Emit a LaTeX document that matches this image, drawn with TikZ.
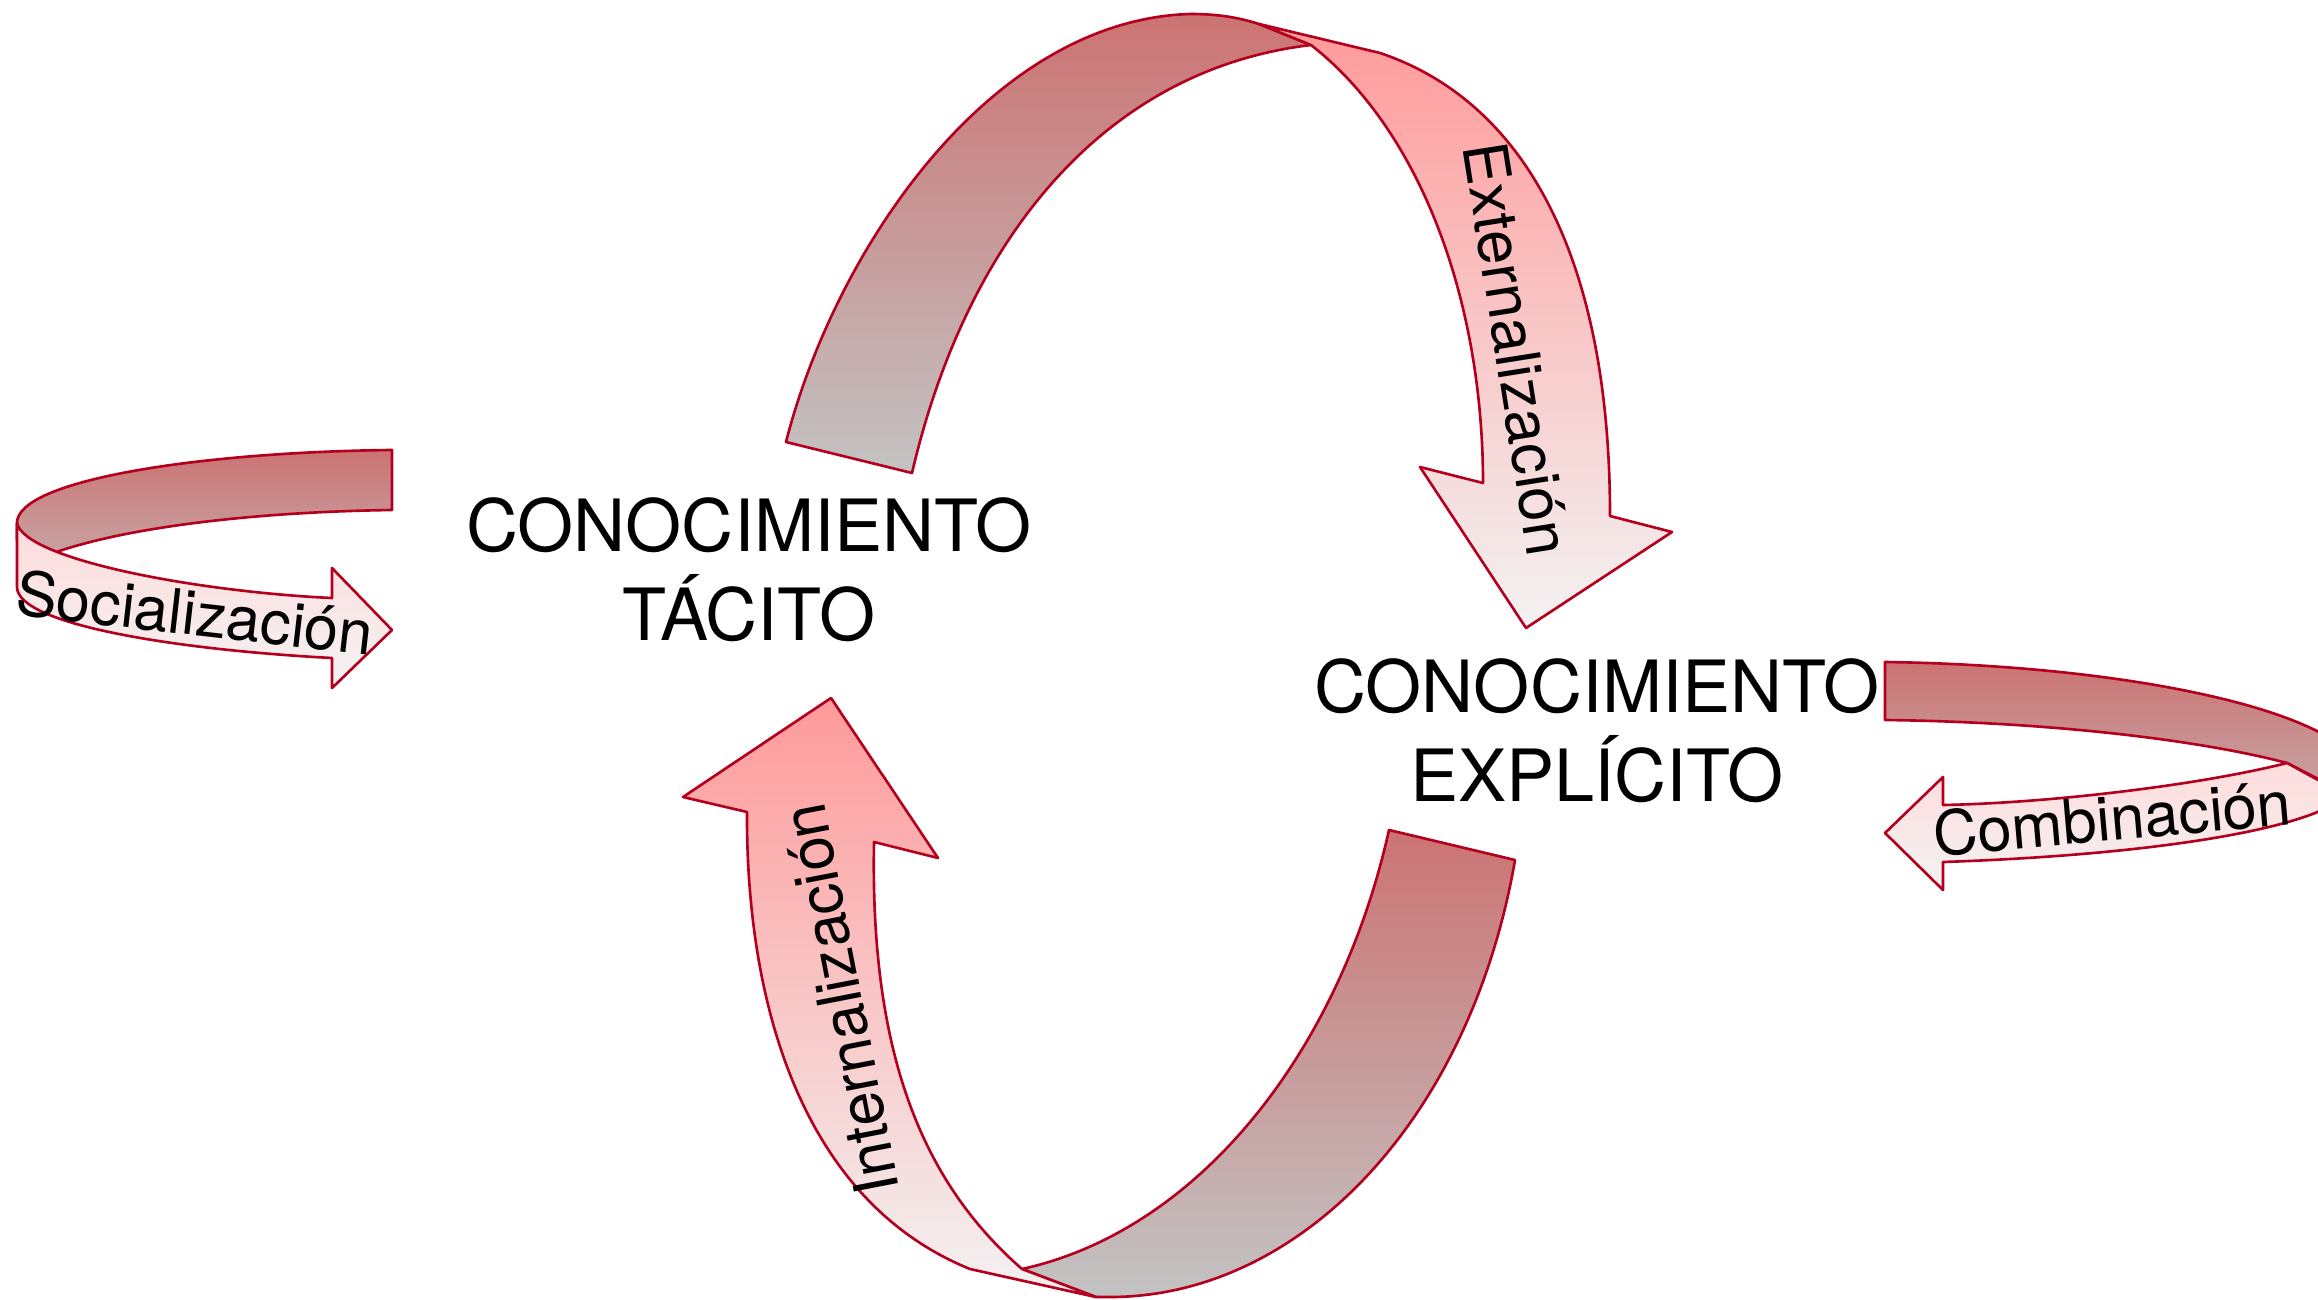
\documentclass[tikz,border=0pt]{standalone}
\usepackage{fontspec}
\setmainfont{TeX Gyre Heros}
\definecolor{borde}{HTML}{B4001E}
\definecolor{rojofondo}{HTML}{CC7373}
\definecolor{grisfondo}{HTML}{C3C3C3}
\definecolor{rosa}{HTML}{FF9A9A}
\definecolor{blanco}{HTML}{F3F2F2}
\tikzset{
  cinta/.style={draw=borde, line width=0.75pt, line join=round},
  atras/.style={cinta, top color=rojofondo, bottom color=grisfondo},
  frente/.style={cinta, top color=rosa, bottom color=blanco},
  ladoatras/.style={cinta, top color=rojofondo, bottom color=rojofondo!40!grisfondo},
  ladofrente/.style={cinta, top color=rosa!35!white, bottom color=blanco},
  saber/.style={font=\fontsize{20.5}{25.3}\selectfont, align=center, inner sep=0pt},
  proceso/.style={font=\fontsize{17.5}{20}\selectfont, inner sep=0pt}
}

\begin{document}
\begin{tikzpicture}[x=0.01cm, y=-0.01cm]
  \useasboundingbox (0,0) rectangle (2318,1300);
  \clip (0,0) rectangle (2318,1300);

  % Externalizacion (arriba)
  \path[atras] (786,442) .. controls (835,250) and (990,20) .. (1190,14)
    .. controls (1220,14) and (1240,18) .. (1259,24) -- (1311,45)
    .. controls (1100,70) and (965,245) .. (912,473) -- cycle;
  \path[frente] (1259,24) -- (1380,53) .. controls (1520,100) and (1610,250) .. (1610,516)
    -- (1672,532) -- (1526,628) -- (1420,467) -- (1483,483)
    .. controls (1483,300) and (1420,130) .. (1311,45) -- cycle;

  % Internalizacion (abajo)
  \path[atras] (1515,860) .. controls (1470,1120) and (1300,1297) .. (1110,1297)
    -- (1096,1297) -- (1022,1269)
    .. controls (1200,1230) and (1340,1050) .. (1389,830) -- cycle;
  \path[frente] (1096,1297) -- (970,1269) .. controls (800,1200) and (746,1000) .. (747,812)
    -- (683,797) -- (831,698) -- (938,858) -- (874,842)
    .. controls (870,1050) and (920,1180) .. (1022,1269) -- cycle;

  % Socializacion (izquierda)
  \path[ladoatras] (392,450) .. controls (200,452) and (17,480) .. (17,523)
    -- (17,540) -- (48,555) .. controls (120,528) and (250,512) .. (392,510) -- cycle;
  \path[ladofrente] (17,523) .. controls (25,560) and (200,592) .. (332,598)
    -- (332,568) -- (392,630) -- (332,688) -- (332,658)
    .. controls (180,650) and (17,625) .. (17,587) -- cycle;

  % Combinacion (derecha)
  \path[ladoatras] (1885,662) .. controls (2100,665) and (2280,700) .. (2340,745)
    -- (2340,790) -- (2287,763) .. controls (2200,740) and (2050,722) .. (1885,720) -- cycle;
  \path[ladofrente] (2340,792) -- (2287,763) .. controls (2200,785) and (2050,803) .. (1943,805)
    -- (1943,777) -- (1885,833) -- (1943,890) -- (1943,862)
    .. controls (2150,855) and (2300,830) .. (2340,800) -- cycle;

  \node[saber] (tacito) at (749,570) {CONOCIMIENTO\\TÁCITO};
  \node[saber] (explicito) at (1597,731) {CONOCIMIENTO\\EXPLÍCITO};

  \node[proceso, rotate=-6.5] (soc) at (195,613) {Socialización};
  \node[proceso, rotate=-81] (ext) at (1517,349) {Externalización};
  \node[proceso, rotate=5] (comb) at (2112,818) {Combinación};
  \node[proceso, rotate=101] (int) at (840,999) {Internalización};
\end{tikzpicture}
\end{document}
